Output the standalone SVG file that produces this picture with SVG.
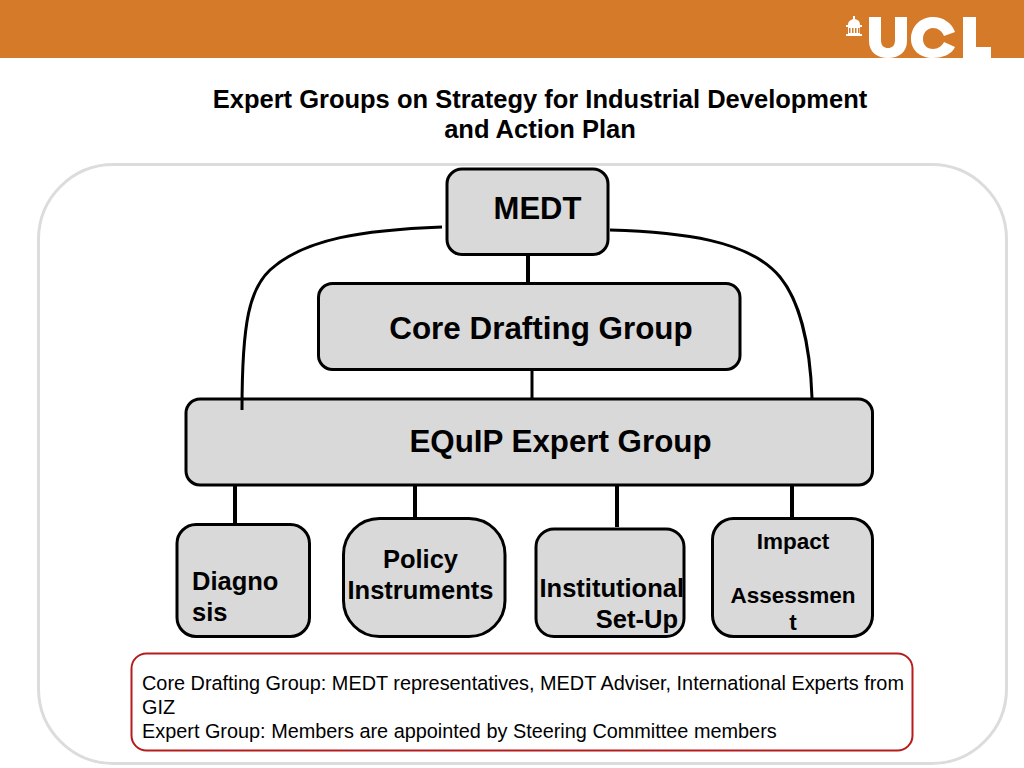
<svg xmlns="http://www.w3.org/2000/svg" width="1024" height="768" viewBox="0 0 1024 768">
<style>
text{font-family:"Liberation Sans",Arial,sans-serif;fill:#000}
.b{font-weight:700}
.n{fill:#d9d9d9;stroke:#000;stroke-width:3}
.c{fill:none;stroke:#000;stroke-width:3}
.s{stroke-width:4}
</style>
<rect width="1024" height="768" fill="#fff"/>
<g id="header">
<rect width="1024" height="58" fill="#d57a28"/>
<g id="logo" fill="#fff">
<path d="M846 36V34H848V27H846V25H848C848 21 851 20 853 19V16H855V19C858 20 860 21 860 25H862V27H860V34H862V36Z"/>
<path d="M869 17H881V40C881 46 884 48 888 48C892 48 895 46 895 40V17H907V41C907 52 899 58 888 58C877 58 869 52 869 41Z"/>
<path d="M955 32L944 36C942 31 938 28 933 28C927 28 923 33 923 39C923 45 927 49 933 49C938 49 942 46 944 42L955 47C952 54 943 58 933 58C920 58 911 50 911 39C911 27 920 17 933 17C943 17 952 23 955 32Z"/>
<path d="M963 17H976V47H991V58H963Z"/>
</g>
<g fill="#d57a28"><rect x="849" y="28" width="1.500" height="5"/><rect x="852" y="28" width="1.500" height="5"/><rect x="855" y="28" width="1.500" height="5"/><rect x="858" y="28" width="1.500" height="5"/></g>
</g>
<text class="b" text-anchor="middle" font-size="25.500" x="540" y="108">Expert Groups on Strategy for Industrial Development</text>
<text class="b" text-anchor="middle" font-size="25.500" x="540" y="138">and Action Plan</text>
<rect id="frame" x="38.500" y="164.500" width="968" height="599" rx="75" fill="#fff" stroke="#dcdcdc" stroke-width="3"/>
<g id="medt"><rect class="n" x="447" y="169" width="161" height="85.500" rx="15"/><text class="b" text-anchor="middle" font-size="31" x="537.500" y="219">MEDT</text></g>
<g id="core"><rect class="n" x="318.500" y="283.500" width="421.500" height="86" rx="14"/><text class="b" text-anchor="middle" font-size="31.400" x="541" y="338.500">Core Drafting Group</text></g>
<g id="equip"><rect class="n" x="186" y="399" width="686.500" height="86" rx="14"/><text class="b" text-anchor="middle" font-size="31.300" x="560.500" y="452">EQuIP Expert Group</text></g>
<g id="diagnosis"><rect class="n" x="177" y="524.500" width="132.500" height="112" rx="19"/><text class="b" font-size="25.500" x="192" y="590">Diagno</text><text class="b" font-size="25.500" x="192" y="621">sis</text></g>
<g id="policy"><rect class="n" x="343.500" y="518.500" width="161.500" height="118" rx="36"/><text class="b" text-anchor="middle" font-size="25.500" x="420.500" y="568">Policy</text><text class="b" text-anchor="middle" font-size="25.500" x="420.500" y="599">Instruments</text></g>
<g id="institutional"><rect class="n" x="536" y="529" width="148" height="107.500" rx="18"/><text class="b" font-size="25.500" x="539.500" y="597">Institutional</text><text class="b" text-anchor="end" font-size="25.500" x="678" y="628">Set-Up</text></g>
<g id="impact"><rect class="n" x="712.500" y="518.500" width="160" height="118" rx="21"/><text class="b" text-anchor="middle" font-size="22.500" x="793" y="549">Impact</text><text class="b" text-anchor="middle" font-size="22.500" x="793" y="603">Assessmen</text><text class="b" text-anchor="middle" font-size="22.500" x="793" y="630">t</text></g>
<g id="note"><rect x="131.500" y="653.500" width="781" height="97" rx="15" fill="#fff" stroke="#b71c1c" stroke-width="2"/>
<text font-size="19.860" x="142" y="690">Core Drafting Group: MEDT representatives, MEDT Adviser, International Experts from</text>
<text font-size="19.860" x="142" y="714">GIZ</text>
<text font-size="19.860" x="142" y="738">Expert Group: Members are appointed by Steering Committee members</text></g>
<g id="connectors">
<path class="c" d="M442 227C365 230 305 238 270 270C250 289 242 320 242 410"/>
<path class="c" d="M610 230C680 232 750 240 780 277C798 299 810 340 812 398"/>
<path class="c s" d="M528 255V283"/>
<path class="c" d="M532 370V398"/>
<path class="c s" d="M235 486V523"/>
<path class="c s" d="M415 486V517"/>
<path class="c s" d="M617 486V527"/>
<path class="c s" d="M792 486V517"/>
</g>
</svg>
